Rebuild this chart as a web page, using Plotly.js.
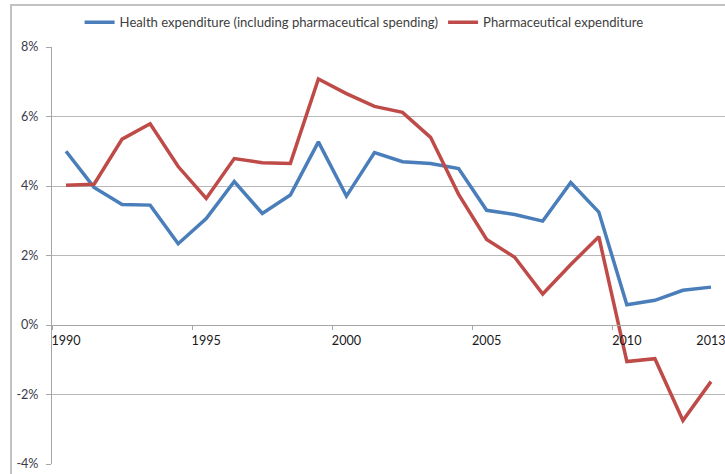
<!DOCTYPE html>
<html>
<head>
<meta charset="utf-8">
<script src="https://cdn.plot.ly/plotly-3.0.1.min.js"></script>
<style>
  html, body { margin: 0; padding: 0; background: #ffffff; overflow: hidden; }
  #wrap { position: relative; width: 725px; height: 474px; overflow: hidden; }
  #chart { width: 725px; height: 474px; }
  /* light outer frame of the chart box, open to the right and bottom */
  #frame {
    position: absolute; left: 10px; top: 4px; width: 740px; height: 490px;
    border-left: 2px solid #c2c2c2; border-top: 2px solid #c2c2c2;
    pointer-events: none; box-sizing: border-box; z-index: 10;
  }
</style>
</head>
<body>
<div id="wrap">
  <div id="chart"></div>
  <div id="frame"></div>
</div>
<script>
// Annual growth rates, per cent
const years = [1990, 1991, 1992, 1993, 1994, 1995, 1996, 1997, 1998, 1999, 2000, 2001,
               2002, 2003, 2004, 2005, 2006, 2007, 2008, 2009, 2010, 2011, 2012, 2013];

const healthExpenditure = [5.00, 3.96, 3.47, 3.45, 2.34, 3.06, 4.13, 3.21, 3.74, 5.27, 3.71, 4.96,
                           4.70, 4.65, 4.50, 3.30, 3.18, 2.99, 4.10, 3.25, 0.58, 0.71, 1.00, 1.09];

const pharmaExpenditure = [4.02, 4.05, 5.35, 5.79, 4.56, 3.64, 4.79, 4.67, 4.65, 7.08, 6.66, 6.29,
                           6.12, 5.40, 3.76, 2.46, 1.95, 0.89, 1.74, 2.54, -1.05, -0.97, -2.75, -1.63];

const seriesNames = ['Health expenditure (including pharmaceutical spending)', 'Pharmaceutical expenditure'];

const xTickYears = [1990, 1995, 2000, 2005, 2010, 2013];
const xTickLabels = ['1990', '1995', '2000', '2005', '2010', '2013'];
const yTickValues = [-4, -2, 0, 2, 4, 6, 8];
const yTickLabels = ['-4%', '-2%', '0%', '2%', '4%', '6%', '8%'];

const FONT = 'Lato, "Open Sans", "DejaVu Sans", sans-serif';
const AXIS_GREY = '#a6a6a6';
const GRID_GREY = '#b8b8b8';

const traces = [
  {
    x: years, y: healthExpenditure, name: seriesNames[0],
    type: 'scatter', mode: 'lines',
    line: { color: '#4a7ebb', width: 3.5 }
  },
  {
    x: years, y: pharmaExpenditure, name: seriesNames[1],
    type: 'scatter', mode: 'lines',
    line: { color: '#be4b48', width: 3.5 }
  }
];

const layout = {
  width: 725, height: 474,
  margin: { l: 52, r: 0, t: 47, b: 10, pad: 0 },
  paper_bgcolor: '#ffffff', plot_bgcolor: '#ffffff',
  font: { family: FONT, size: 12, color: '#333333' },
  showlegend: true,
  legend: {
    orientation: 'h',
    x: 0.041, xanchor: 'left',
    y: 1.058, yanchor: 'middle',
    font: { family: FONT, size: 13.1, color: '#404040' },
    bgcolor: 'rgba(0,0,0,0)',
    itemgap: 43
  },
  xaxis: {
    range: [1989.5, 2013.5],
    anchor: 'free', position: 4 / 12,
    showline: true, linecolor: AXIS_GREY, linewidth: 1,
    showgrid: false, zeroline: false,
    tickmode: 'array', tickvals: xTickYears, ticktext: xTickLabels,
    ticks: '', ticklen: 0,
    ticklabeloverflow: 'allow',
    ticklabelstandoff: 4,
    tickfont: { family: FONT, size: 12.6, color: '#1a1a1a' },
    minor: { tick0: 1989.5, dtick: 5, ticks: 'outside', ticklen: 4, tickcolor: AXIS_GREY, showgrid: false },
    fixedrange: true
  },
  yaxis: {
    range: [-4, 8],
    tickmode: 'array', tickvals: yTickValues, ticktext: yTickLabels,
    showline: true, linecolor: AXIS_GREY, linewidth: 1,
    ticks: 'outside', ticklen: 5, tickcolor: AXIS_GREY,
    ticklabelstandoff: 5,
    showgrid: true, gridcolor: GRID_GREY, gridwidth: 1,
    zeroline: false,
    tickfont: { family: FONT, size: 12.6, color: '#3a3a4a' },
    fixedrange: true
  }
};

Plotly.newPlot('chart', traces, layout, { displayModeBar: false, staticPlot: true });
</script>
</body>
</html>
